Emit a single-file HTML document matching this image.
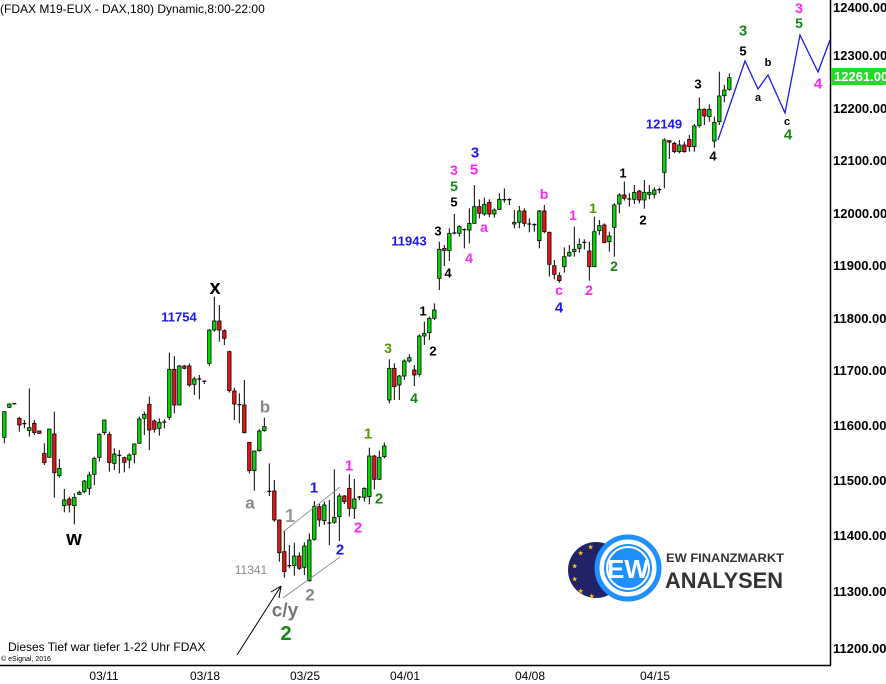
<!DOCTYPE html>
<html><head><meta charset="utf-8"><style>
body{margin:0;background:#fff;width:886px;height:684px;overflow:hidden}
svg{display:block}
text{font-family:"Liberation Sans",Arial,sans-serif;font-weight:bold}
</style></head><body>
<svg id="s" width="886" height="684" xmlns="http://www.w3.org/2000/svg">
<rect width="886" height="684" fill="#fff"/>
<g id="c"></g>
<line x1="830.5" y1="0" x2="830.5" y2="665" stroke="#000" stroke-width="1.5"/>
<line x1="0" y1="665.5" x2="831" y2="665.5" stroke="#000" stroke-width="1.5"/>
<g font-size="13" fill="#000">
<text x="833" y="12">12400.00</text><text x="833" y="60">12300.00</text><text x="833" y="113">12200.00</text>
<text x="833" y="165">12100.00</text><text x="833" y="218">12000.00</text><text x="833" y="270">11900.00</text>
<text x="833" y="323">11800.00</text><text x="833" y="375">11700.00</text><text x="833" y="430">11600.00</text>
<text x="833" y="485">11500.00</text><text x="833" y="540">11400.00</text><text x="833" y="596">11300.00</text>
<text x="833" y="653">11200.00</text>
</g>
<rect x="831" y="68" width="55" height="17" fill="#22dd22"/>
<text x="834" y="81" font-size="13" fill="#fff">12261.00</text>
<g font-size="12" fill="#000" text-anchor="middle">
<text x="104" y="680" style="font-weight:normal">03/11</text><text x="205" y="680" style="font-weight:normal">03/18</text>
<text x="305" y="680" style="font-weight:normal">03/25</text><text x="405" y="680" style="font-weight:normal">04/01</text>
<text x="530" y="680" style="font-weight:normal">04/08</text><text x="655" y="680" style="font-weight:normal">04/15</text>
</g>
<text x="0" y="13" font-size="12" fill="#000" style="font-weight:normal">(FDAX M19-EUX - DAX,180) Dynamic,8:00-22:00</text>
<text x="8" y="651" font-size="12" fill="#000" style="font-weight:normal">Dieses Tief war tiefer 1-22 Uhr FDAX</text>
<text x="1" y="661" font-size="7" fill="#000" style="font-weight:normal">© eSignal, 2016</text>
<line x1="283" y1="532" x2="340" y2="487" stroke="#888" stroke-width="0.8"/>
<line x1="283" y1="598" x2="340" y2="557" stroke="#888" stroke-width="0.8"/>
<line x1="237" y1="655" x2="281" y2="586" stroke="#000" stroke-width="1"/>
<path d="M281 586 L271 592 M281 586 L279 598" stroke="#000" fill="none"/>
<polyline points="718,140 745,61 758,89 768,75 785,113 800,35 818,72 830,40" fill="none" stroke="#1a1aee" stroke-width="1.3"/>
<g text-anchor="middle" dominant-baseline="central">
<text x="215" y="288" font-size="20" fill="#000">x</text>
<text x="179" y="317" font-size="13" fill="#1a1aee">11754</text>
<text x="265" y="407" font-size="17" fill="#888">b</text>
<text x="250" y="503" font-size="17" fill="#888">a</text>
<text x="74" y="539" font-size="20" fill="#000">w</text>
<text x="290" y="516" font-size="18" fill="#999">1</text>
<text x="251" y="570" font-size="12" fill="#888" style="font-weight:normal">11341</text>
<text x="310" y="595" font-size="17" fill="#888">2</text>
<text x="285" y="611" font-size="19" fill="#777">c/y</text>
<text x="286" y="634" font-size="20" fill="#118811">2</text>
<text x="314" y="488" font-size="15" fill="#1a1aee">1</text>
<text x="340" y="550" font-size="15" fill="#1a1aee">2</text>
<text x="349" y="466" font-size="15" fill="#ff22ff">1</text>
<text x="358" y="528" font-size="15" fill="#ff22ff">2</text>
<text x="368" y="434" font-size="15" fill="#559900">1</text>
<text x="379" y="499" font-size="15" fill="#118811">2</text>
<text x="388" y="348" font-size="14" fill="#559900">3</text>
<text x="414" y="398" font-size="14" fill="#118811">4</text>
<text x="423" y="311" font-size="13" fill="#000">1</text>
<text x="433" y="351" font-size="13" fill="#000">2</text>
<text x="438" y="231" font-size="13" fill="#000">3</text>
<text x="448" y="273" font-size="13" fill="#000">4</text>
<text x="409" y="241" font-size="13" fill="#1a1aee">11943</text>
<text x="454" y="170" font-size="14" fill="#ff22ff">3</text>
<text x="454" y="186" font-size="14" fill="#118811">5</text>
<text x="454" y="202" font-size="13" fill="#000">5</text>
<text x="475" y="153" font-size="15" fill="#1a1aee">3</text>
<text x="474" y="170" font-size="15" fill="#ff22ff">5</text>
<text x="469" y="258" font-size="14" fill="#ff22ff">4</text>
<text x="484" y="227" font-size="14" fill="#ff22ff">a</text>
<text x="544" y="194" font-size="14" fill="#ff22ff">b</text>
<text x="573" y="215" font-size="14" fill="#ff22ff">1</text>
<text x="559" y="290" font-size="14" fill="#ff22ff">c</text>
<text x="559" y="308" font-size="15" fill="#1a1aee">4</text>
<text x="589" y="290" font-size="14" fill="#ff22ff">2</text>
<text x="593" y="208" font-size="14" fill="#559900">1</text>
<text x="614" y="266" font-size="14" fill="#118811">2</text>
<text x="623" y="173" font-size="13" fill="#000">1</text>
<text x="643" y="220" font-size="13" fill="#000">2</text>
<text x="664" y="124" font-size="13" fill="#1a1aee">12149</text>
<text x="698" y="84" font-size="13" fill="#000">3</text>
<text x="713" y="156" font-size="13" fill="#000">4</text>
<text x="743" y="31" font-size="15" fill="#118811">3</text>
<text x="743" y="51" font-size="13" fill="#000">5</text>
<text x="758" y="98" font-size="11" fill="#000">a</text>
<text x="768" y="63" font-size="11" fill="#000">b</text>
<text x="787" y="122" font-size="11" fill="#000">c</text>
<text x="788" y="135" font-size="15" fill="#118811">4</text>
<text x="799" y="8" font-size="14" fill="#ff22ff">3</text>
<text x="799" y="23" font-size="14" fill="#118811">5</text>
<text x="818" y="84" font-size="15" fill="#ff22ff">4</text>
</g>
<circle cx="596" cy="570" r="28" fill="#222266"/>
<g fill="#ffcc00" font-size="6"><text x="578" y="555">★</text><text x="588" y="549">★</text><text x="572" y="568">★</text><text x="572" y="581">★</text><text x="578" y="593">★</text><text x="589" y="598">★</text></g>
<circle cx="628" cy="568" r="31" fill="#fff" stroke="#1e90ff" stroke-width="5"/>
<circle cx="628" cy="568" r="24" fill="#1e90ff"/>
<circle cx="628" cy="568" r="21" fill="none" stroke="#fff" stroke-width="2"/>
<text x="628" y="578" text-anchor="middle" font-size="26" fill="#fff">EW</text>
<text x="666" y="562" font-size="12" fill="#333" textLength="118" lengthAdjust="spacingAndGlyphs">EW FINANZMARKT</text>
<text x="665" y="588" font-size="22" fill="#333" textLength="118" lengthAdjust="spacingAndGlyphs">ANALYSEN</text>
</svg>
<script>
var d1=[[13,395,490,395,472,'g'],[28,370,384,372,382,'g'],[43,371,373,371,373,'d'],[58,410,455,415,435,'r'],[73,420,445,431,433,'d'],[88,325,470,443,452,'g'],[103,420,465,430,458,'r'],[118,452,461,453,460,'r'],[133,490,555,520,548,'r'],[148,447,532,447,532,'g'],[163,395,653,462,578,'r'],[178,537,593,565,587,'g'],[193,627,697,660,677,'g'],[208,650,697,657,675,'r'],[223,640,733,652,677,'g'],[238,632,645,637,643,'g'],[253,600,640,603,635,'g'],[268,575,645,585,625,'g'],[283,530,615,535,583,'g'],[298,460,545,463,532,'g'],[313,420,465,420,458,'g'],[328,455,575,463,548,'r'],[343,505,570,522,550,'g'],[358,510,580,526,528,'d'],[373,530,577,533,547,'r'],[388,520,565,525,540,'g'],[403,490,550,492,523,'g'],[418,410,490,417,490,'g'],[433,395,465,403,415,'g'],[448,350,510,373,450,'r'],[463,418,458,423,448,'r'],[478,415,467,427,445,'g'],[493,418,445,426,428,'d'],[508,218,420,268,412,'g'],[523,228,400,268,375,'r'],[538,255,375,258,375,'g'],[553,255,268,258,265,'r'],[568,250,320,258,315,'r'],[583,290,345,297,313,'g'],[598,285,358,297,299,'d'],[613,300,312,304,306,'d'],[628,148,258,150,250,'g'],[643,50,155,123,150,'g'],[658,75,185,123,150,'r'],[673,148,195,152,175,'r'],[688,212,338,215,332,'r'],[703,323,420,333,372,'r'],[718,340,430,374,376,'d'],[733,300,460,375,458,'r'],[748,487,580,487,572,'r'],[763,513,632,513,572,'g'],[778,448,515,453,512,'g'],[793,413,455,440,452,'g'],[808,550,648,634,636,'d'],[823,600,725,633,720,'r'],[838,718,845,720,818,'r'],[853,753,893,815,875,'r'],[868,795,865,857,859,'d'],[883,788,887,828,857,'g'],[898,817,870,828,865,'r'],[913,787,885,798,862,'g'],[928,760,905,780,902,'g'],[943,663,782,680,778,'g'],[958,672,740,680,720,'r'],[973,665,735,675,722,'g'],[988,660,795,729,731,'d'],[1003,568,732,712,727,'g'],[1018,640,783,648,710,'g'],[1033,645,672,648,665,'r'],[1048,583,710,625,685,'r'],[1063,597,717,657,685,'g'],[1078,648,660,651,653,'d'],[1093,622,665,625,652,'g'],[1108,503,673,528,650,'g'],[1123,525,628,528,598,'r'],[1138,512,600,532,598,'g'],[1153,488,535,498,530,'g']];
var d2=[[28,898,1030,925,1020,'g'],[43,910,1020,925,980,'r'],[58,945,1020,948,975,'g'],[73,898,960,903,948,'g'],[88,883,908,893,903,'g'],[103,915,978,930,945,'r'],[118,823,950,828,943,'g'],[133,785,855,820,828,'g'],[148,770,840,775,818,'g'],[163,730,780,750,775,'g'],[178,545,690,568,655,'g'],[193,555,618,565,572,'r'],[208,505,603,520,572,'g'],[223,462,523,519,521,'d'],[238,495,530,500,520,'g'],[253,505,565,509,511,'d'],[268,445,550,490,510,'g'],[283,375,492,440,490,'g'],[298,418,475,440,460,'r'],[313,413,467,433,462,'g'],[328,418,472,427,462,'r'],[343,445,473,450,462,'g'],[358,400,450,418,448,'g'],[373,385,428,419,421,'d'],[388,415,435,419,421,'d'],[403,450,505,487,492,'g'],[418,438,505,453,487,'g'],[433,445,500,453,490,'r'],[448,475,517,492,494,'d'],[463,490,515,494,496,'d'],[478,450,565,453,542,'g'],[493,435,520,453,515,'r'],[508,515,650,517,613,'r'],[523,600,658,617,643,'r'],[538,637,668,647,662,'r'],[553,562,638,590,620,'g'],[568,555,590,577,588,'g'],[583,500,590,568,575,'g'],[598,535,578,553,565,'g'],[613,538,568,547,549,'d'],[628,545,662,573,620,'r'],[643,470,620,515,620,'g'],[658,480,525,497,512,'g'],[673,490,550,495,548,'r'],[688,515,575,528,545,'g'],[703,430,590,435,502,'g'],[718,400,460,405,432,'g'],[733,365,422,405,415,'r'],[748,400,440,417,419,'d'],[763,375,432,397,418,'g'],[778,390,430,393,420,'r'],[793,360,446,397,420,'g'],[808,375,418,397,403,'g'],[823,382,415,390,403,'g'],[838,383,400,389,391,'d'],[853,235,385,240,337,'g'],[868,240,297,242,246,'r'],[883,245,280,250,275,'r'],[898,240,280,255,275,'g'],[913,245,278,255,275,'r'],[928,225,275,238,260,'r'],[943,192,275,198,260,'g'],[958,112,203,148,197,'g'],[973,145,195,148,168,'r'],[988,133,185,148,170,'g'],[1003,170,263,187,243,'g'],[1018,35,195,108,185,'g'],[1033,75,127,90,107,'g'],[1048,40,92,53,88,'g']];
var h='';
function add(d,ox,oy){d.forEach(function(c){var x=ox+c[0]/3,wt=oy+c[1]/3,wb=oy+c[2]/3,bt=oy+c[3]/3,bb=oy+c[4]/3;
h+='<line x1="'+x+'" y1="'+wt+'" x2="'+x+'" y2="'+wb+'" stroke="#000" stroke-width="1"/>';
if(c[5]=='d'){h+='<line x1="'+(x-2)+'" y1="'+bt+'" x2="'+(x+2)+'" y2="'+bt+'" stroke="#000" stroke-width="1.2"/>';}
else{var f=c[5]=='g'?'#00dd00':'#ee1111';h+='<rect x="'+(x-1.7)+'" y="'+bt+'" width="3.4" height="'+Math.max(1.5,bb-bt)+'" fill="'+f+'" stroke="#000" stroke-width="0.8"/>';}});}
add(d1,0,280);add(d2,380,60);
document.getElementById('c').innerHTML=h;
</script>
</body></html>
